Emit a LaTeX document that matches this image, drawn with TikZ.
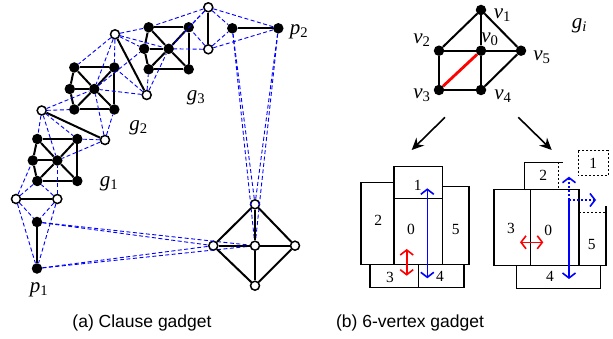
\documentclass[tikz,border=0pt]{standalone}
\usepackage{fontspec}
\setmainfont{Liberation Serif}
\newfontfamily\capfont{Liberation Sans}
\usetikzlibrary{arrows.meta}

\begin{document}
\begin{tikzpicture}[x=1pt, y=-1pt,
    bnode/.style={circle, fill=black, inner sep=0pt, minimum size=10.5pt},
    wnode/.style={circle, draw=black, fill=white, line width=1.5pt, inner sep=0pt, minimum size=9pt},
    edge/.style={line width=2pt},
    tri/.style={trblue, line width=0.9pt, dash pattern=on 4pt off 2.5pt},
    box/.style={draw, line width=1.5pt},
    dotbox/.style={line width=1.4pt, dash pattern=on 2pt off 2pt},
    num/.style={font=\fontsize{15.5}{15.5}\selectfont},
    lbl/.style={font=\fontsize{21}{21}\selectfont},
    move/.style={line width=1.6pt, {Straight Barb[length=5pt,width=13pt]}-{Straight Barb[length=5pt,width=13pt]}}]
    \definecolor{trblue}{RGB}{0, 0, 255}
    \definecolor{flipred}{RGB}{255, 0, 0}
    \useasboundingbox (0,0) rectangle (613,339);

    % (a) clause gadget
    \foreach \n/\x/\y in {1/37.3/139, 2/74.3/67.5, 3/148.7/27.3} {
        \node[bnode] (g\n-tl) at (\x,\y) {};
        \node[bnode] (g\n-tr) at ({\x+40},\y) {};
        \node[bnode] (g\n-l) at ({\x-4.5},{\y+21.5}) {};
        \node[bnode] (g\n-c) at ({\x+20},{\y+21.5}) {};
        \node[bnode] (g\n-bl) at (\x,{\y+42}) {};
        \node[bnode] (g\n-br) at ({\x+40},{\y+42}) {};
        \foreach \a/\b in {tl/tr, tr/br, br/bl, bl/l, l/tl, l/c, tl/c, tr/c, bl/c, br/c}
            \draw[edge] (g\n-\a) -- (g\n-\b);
    }
    \foreach \w/\x/\y in {w1/16/199, w2/57.3/199, w3/41.7/110.5, w4/105/140, w5/115/34.3, w6/146.7/95, w7/208.3/7.3, w8/208.3/49.3,
            dt/255/204.3, dl/213.3/245.7, dc/255/245.7, dr/295/245.7, db/255/285.7}
        \node[wnode] (\w) at (\x,\y) {};
    \foreach \p/\x/\y in {p1a/37/222, p1b/37/268.5, p2a/232.3/28.3, p2b/278.3/28.3}
        \node[bnode] (\p) at (\x,\y) {};

    \foreach \a/\b in {w1/p1a, w2/p1a, w1/p1b, w2/p1b, w1/g1-l, w1/g1-bl, w2/g1-bl, w2/g1-c,
            w3/g1-tl, w3/g1-c, w3/g1-tr, w4/g1-tr, w4/g1-c, w3/g2-bl, w3/g2-c, w4/g2-c, w4/g2-br,
            w5/g2-tl, w5/g2-c, w5/g2-tr, w6/g2-tr, w6/g2-c, g2-c/g3-l, w6/g3-bl, w6/g3-c,
            w5/g3-tl, w5/g3-c, w5/g3-l, w7/g3-tl, w7/g3-c, w7/g3-tr, w8/g3-c, w8/g3-tr,
            w7/p2a, w8/p2a, w7/p2b, w8/p2b,
            p1a/dl, p1a/dc, p1b/dl, p1b/dc, p2a/dt, p2a/dc, p2b/dt, p2b/dc}
        \draw[tri] (\a) -- (\b);
    \foreach \a/\b in {w1/w2, p1a/p1b, w3/w4, w5/w6, w7/w8, p2a/p2b,
            dt/dl, dt/dr, db/dl, db/dr, dt/dc, dl/dc, dc/dr, dc/db}
        \draw[edge] (\a) -- (\b);

    \node[lbl] (lg1) at (109,184) {\textit{g}\textsubscript{1}};
    \node[lbl] (lg2) at (138.5,128) {\textit{g}\textsubscript{2}};
    \node[lbl] (lg3) at (196,98) {\textit{g}\textsubscript{3}};
    \node[lbl] (lp1) at (39,290) {\textit{p}\textsubscript{1}};
    \node[lbl] (lp2) at (299,32) {\textit{p}\textsubscript{2}};

    % (b) 6-vertex gadget
    \foreach \v/\x/\y in {v1/481/10, v2/439/50.7, v0/481/50.7, v5/521/50.7, v3/439/90, v4/481/90}
        \node[bnode] (\v) at (\x,\y) {};
    \foreach \a/\b in {v1/v2, v1/v0, v1/v5, v2/v0, v0/v5, v2/v3, v0/v4, v3/v4, v4/v5}
        \draw[edge] (\a) -- (\b);
    \draw[flipred, line width=2.8pt] (v3) -- (v0);

    \foreach \v/\i/\x/\y in {lv1/1/502.5/15, lv2/2/422/40, lv0/0/490/39, lv5/5/542/57, lv3/3/422/95, lv4/4/503/96}
        \node[lbl] (\v) at (\x,\y) {\textit{v}\textsubscript{\i}};
    \node[lbl] (lgi) at (579.5,26) {\textit{g}\textsubscript{\textit{i}}};

    \coordinate (al) at (445,117.3);
    \coordinate (ar) at (518.3,117.3);
    \coordinate (bl) at (411.7,150);
    \coordinate (br) at (551.7,150);
    \draw[line width=1.6pt, -{Stealth[length=12pt,width=11pt]}] (al) -- (bl);
    \draw[line width=1.6pt, -{Stealth[length=12pt,width=11pt]}] (ar) -- (br);

    % left packing
    \draw[box] (361,182.7) rectangle (394,264.3);
    \draw[box] (394,166.7) rectangle (442.3,198.3);
    \draw[box] (394,198.3) rectangle (442.3,264.3);
    \draw[box] (442.3,186.7) rectangle (469,264.3);
    \draw[box] (370,264.3) rectangle (418.3,287.3);
    \draw[box] (418.3,264.3) rectangle (464,287.3);
    \foreach \b/\t/\x/\y in {la1/1/417.7/185.7, la2/2/378.3/220, la0/0/411/229, la5/5/455.7/230, la3/3/390/277.7, la4/4/440/276.7}
        \node[num] (\b) at (\x,\y) {\t};
    \draw[move, trblue] (427.3,188.3) -- (427.3,278.3);
    \draw[move, flipred] (406.7,249) -- (406.7,275.7);

    % right packing
    \draw[box] (494,189.3) rectangle (530.7,265.7);
    \draw[box] (530.7,189.3) rectangle (579,265.7);
    \draw[box] (516.7,265.7) rectangle (600.7,288.3);
    \draw[line width=1.5pt] (524.3,189.3) -- (524.3,162.3) -- (562.7,162.3);
    \draw[dotbox] (558.3,162.3) -- (558.3,189.3);
    \draw[line width=1.5pt] (579,265.7) -- (606,265.7) -- (606,206);
    \draw[dotbox] (579,212.7) -- (606,212.7);
    \draw[dotbox] (578.3,150.7) rectangle (608.3,175.7);
    \foreach \b/\t/\x/\y in {ra2/2/543.3/175, ra1/1/593.3/163.3, ra3/3/511/228.3, ra0/0/548.3/230, ra5/5/591.7/245, ra4/4/550/276.7}
        \node[num] (\b) at (\x,\y) {\t};
    \draw[trblue, line width=1.6pt, dash pattern=on 2pt off 2pt, -{Straight Barb[length=5pt,width=13pt]}] (569,200) -- (569,176.7);
    \draw[trblue, line width=1.6pt, dash pattern=on 2pt off 2pt, -{Straight Barb[length=5pt,width=13pt]}] (569,200) -- (596,200);
    \draw[trblue, line width=1.6pt, -{Straight Barb[length=5pt,width=13pt]}] (569,200) -- (569,279);
    \draw[move, flipred] (520,242.3) -- (543.3,242.3);

    \node[font=\capfont\fontsize{17.5}{20}\selectfont] (capa) at (142,323) {(a) Clause gadget};
    \node[font=\capfont\fontsize{17.5}{20}\selectfont] (capb) at (410,323) {(b) 6-vertex gadget};
\end{tikzpicture}
\end{document}
